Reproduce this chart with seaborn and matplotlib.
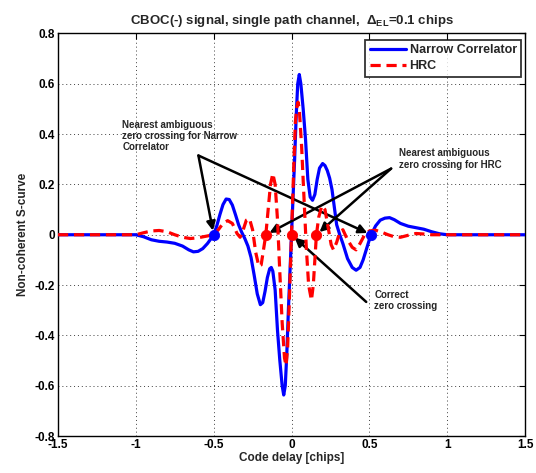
import numpy as np
import pandas as pd
import matplotlib
matplotlib.use("Agg")
import matplotlib.pyplot as plt
import seaborn as sns

# S-curve samples: Narrow Correlator (code delay in chips, curve value)
nc_delay = [-1.5, -1.0, -0.95, -0.9, -0.85, -0.8, -0.75, -0.7, -0.66, -0.63, -0.6, -0.57,
            -0.54, -0.52, -0.5, -0.48, -0.46, -0.44, -0.42, -0.4, -0.38, -0.36, -0.34, -0.32,
            -0.3, -0.28, -0.26, -0.24, -0.22, -0.2, -0.185, -0.17, -0.155, -0.14, -0.13, -0.12,
            -0.105, -0.09, -0.075, -0.06, -0.05, -0.04, -0.03, -0.02, -0.01, 0.0, 0.01, 0.02,
            0.03, 0.04, 0.05, 0.06, 0.075, 0.09, 0.105, 0.12, 0.135, 0.15, 0.165, 0.18, 0.2,
            0.215, 0.23, 0.245, 0.26, 0.275, 0.29, 0.31, 0.33, 0.36, 0.39, 0.415, 0.44, 0.46,
            0.48, 0.5, 0.512, 0.54, 0.57, 0.6, 0.63, 0.66, 0.7, 0.75, 0.8, 0.85, 0.9, 0.95,
            1.0, 1.5]
nc_value = [0.0, 0.0, -0.008, -0.02, -0.026, -0.029, -0.034, -0.045, -0.06, -0.068, -0.066,
            -0.055, -0.035, -0.018, 0.0, 0.035, 0.08, 0.12, 0.142, 0.14, 0.118, 0.08, 0.04,
            0.01, -0.015, -0.045, -0.09, -0.16, -0.235, -0.278, -0.27, -0.225, -0.17, -0.135,
            -0.13, -0.145, -0.22, -0.38, -0.5, -0.6, -0.637, -0.6, -0.47, -0.3, -0.15, 0.0,
            0.15, 0.3, 0.47, 0.6, 0.637, 0.6, 0.5, 0.38, 0.22, 0.15, 0.137, 0.16, 0.22, 0.265,
            0.283, 0.275, 0.255, 0.225, 0.18, 0.11, 0.04, 0.0, -0.035, -0.095, -0.13, -0.141,
            -0.13, -0.1, -0.06, -0.02, 0.0, 0.035, 0.058, 0.066, 0.068, 0.06, 0.045, 0.034,
            0.028, 0.022, 0.012, 0.004, 0.0, 0.0]

# S-curve samples: HRC
hrc_delay = [-1.5, -1.0, -0.95, -0.9, -0.85, -0.8, -0.75, -0.7, -0.65, -0.6, -0.55, -0.5,
             -0.47, -0.44, -0.41, -0.38, -0.35, -0.33, -0.31, -0.29, -0.27, -0.25, -0.23,
             -0.21, -0.195, -0.18, -0.165, -0.15, -0.135, -0.12, -0.105, -0.09, -0.075, -0.06,
             -0.045, -0.035, -0.025, -0.015, 0.0, 0.015, 0.025, 0.035, 0.042, 0.05, 0.065,
             0.08, 0.095, 0.11, 0.128, 0.14, 0.15, 0.16, 0.175, 0.195, 0.215, 0.235, 0.255,
             0.27, 0.29, 0.31, 0.33, 0.36, 0.39, 0.415, 0.44, 0.47, 0.5, 0.54, 0.58, 0.62,
             0.66, 0.7, 0.75, 0.8, 0.85, 0.9, 1.5]
hrc_value = [0.0, 0.0, 0.008, 0.015, 0.017, 0.012, 0.0, -0.01, -0.015, -0.012, -0.006, 0.0,
             0.02, 0.045, 0.056, 0.045, 0.005, -0.01, 0.02, 0.058, 0.064, 0.02, -0.07, -0.125,
             -0.12, -0.06, 0.0, 0.1, 0.2, 0.243, 0.2, 0.06, -0.15, -0.35, -0.49, -0.52, -0.45,
             -0.28, 0.0, 0.28, 0.45, 0.51, 0.527, 0.5, 0.35, 0.15, -0.05, -0.2, -0.26, -0.2,
             -0.1, 0.0, 0.07, 0.115, 0.1, 0.03, -0.04, -0.06, -0.03, 0.01, 0.02, -0.02, -0.05,
             -0.06, -0.035, 0.0, 0.015, 0.018, 0.01, 0.0, -0.008, -0.01, -0.002, 0.005, 0.003,
             0.0, 0.0]

# Zero crossings highlighted on the plot
nc_cross = [-0.5, 0.512]
hrc_cross = [-0.165, 0.0, 0.16]

x_ticks = [-1.5, -1, -0.5, 0, 0.5, 1, 1.5]
y_ticks = [-0.8, -0.6, -0.4, -0.2, 0, 0.2, 0.4, 0.6, 0.8]

sns.set_theme(style="white")
plt.rcParams["font.family"] = ["Liberation Sans", "DejaVu Sans"]
plt.rcParams["font.weight"] = "bold"
plt.rcParams["mathtext.fontset"] = "custom"
plt.rcParams["mathtext.rm"] = "Liberation Sans:bold"
plt.rcParams["mathtext.bf"] = "Liberation Sans:bold"
plt.rcParams["mathtext.it"] = "Liberation Sans:bold"

fig = plt.figure(figsize=(5.36, 4.73), dpi=100)
ax = fig.add_axes([0.1082, 0.0782, 0.8713, 0.851])

nc_df = pd.DataFrame({"delay": nc_delay, "value": nc_value})
hrc_df = pd.DataFrame({"delay": hrc_delay, "value": hrc_value})

sns.lineplot(data=nc_df, x="delay", y="value", ax=ax, color="#0000ff", lw=2.3,
             label="Narrow Correlator", zorder=3)
sns.lineplot(data=hrc_df, x="delay", y="value", ax=ax, color="#ff0000", lw=2.3,
             label="HRC", zorder=4)
ax.lines[1].set_dashes((3.2, 1.8))

sns.scatterplot(x=nc_cross, y=[0.0] * len(nc_cross), ax=ax, color="#0000ff", s=55,
                edgecolor="#0000ff", zorder=5, legend=False)
sns.scatterplot(x=hrc_cross, y=[0.0] * len(hrc_cross), ax=ax, color="#ff0000", s=55,
                edgecolor="#ff0000", zorder=5, legend=False)

ax.set_xlim(-1.5, 1.5)
ax.set_ylim(-0.8, 0.8)
ax.set_xticks(x_ticks)
ax.set_xticklabels(["-1.5", "-1", "-0.5", "0", "0.5", "1", "1.5"])
ax.set_yticks(y_ticks)
ax.set_yticklabels(["-0.8", "-0.6", "-0.4", "-0.2", "0", "0.2", "0.4", "0.6", "0.8"])
ax.tick_params(direction="in", length=4, width=0.8, top=True, right=True,
               labelsize=8.5, pad=2, colors="black")
for lab in ax.get_xticklabels() + ax.get_yticklabels():
    lab.set_fontweight("bold")
ax.grid(True, color="0.25", linestyle=(0, (1, 3)), lw=0.7)
for s in ax.spines.values():
    s.set_color("black")
    s.set_linewidth(1.0)

ax.set_xlabel("Code delay [chips]", fontsize=8.5, fontweight="bold", labelpad=1)
ax.set_ylabel("Non-coherent S-curve", fontsize=8.5, fontweight="bold", labelpad=4)
ax.set_title(r"CBOC(-) signal, single path channel,  $\Delta_{EL}$=0.1 chips",
             fontsize=9.5, fontweight="bold", pad=7)

leg = ax.legend(loc="upper right", bbox_to_anchor=(0.997, 0.99), fontsize=9,
                handlelength=2.9, frameon=True, fancybox=False, borderpad=0.35,
                labelspacing=0.3, handletextpad=0.3, borderaxespad=0.2)
leg.get_frame().set_edgecolor("black")
leg.get_frame().set_linewidth(1.3)
for t in leg.get_texts():
    t.set_fontweight("bold")

arrow = dict(arrowstyle="-|>", color="black", lw=1.8, mutation_scale=13,
             shrinkA=0, shrinkB=3)

# Narrow Correlator ambiguous crossings
ax.text(-1.088, 0.458, "Nearest ambiguous\nzero crossing for Narrow\nCorrelator",
        fontsize=7, fontweight="bold", ha="left", va="top", linespacing=1.15)
v1 = (-0.598, 0.315)
for xc in nc_cross:
    ax.annotate("", xy=(xc, 0.0), xytext=v1, arrowprops=arrow)

# HRC ambiguous crossings
ax.text(0.689, 0.343, "Nearest ambiguous\nzero crossing for HRC",
        fontsize=7, fontweight="bold", ha="left", va="top", linespacing=1.15)
v2 = (0.64, 0.263)
for xc in [-0.165, 0.16]:
    ax.annotate("", xy=(xc, 0.0), xytext=v2, arrowprops=arrow)

# Correct crossing
ax.text(0.532, -0.218, "Correct\nzero crossing", fontsize=7, fontweight="bold",
        ha="left", va="top", linespacing=1.15)
ax.annotate("", xy=(0.0, 0.0), xytext=(0.48, -0.267), arrowprops=arrow)

fig.savefig("out.png", dpi=100, facecolor="white")
